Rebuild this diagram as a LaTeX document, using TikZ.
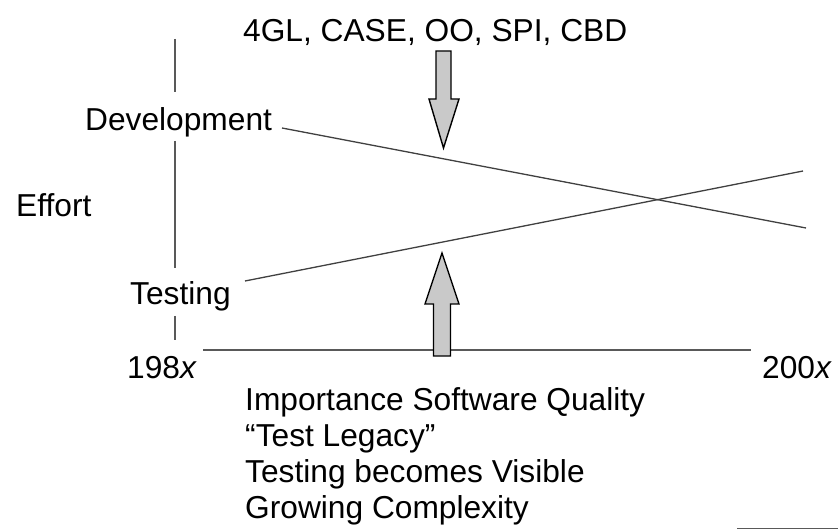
\documentclass[tikz,border=0pt]{standalone}
\usepackage{fontspec}
\setmainfont{Liberation Sans}
\tikzset{
  lbl/.style={inner sep=0pt, anchor=base west, font=\fontsize{31.7}{36}\selectfont},
  axisline/.style={draw=black!65, line width=1.3pt},
  trend/.style={draw=black!75, line width=1.3pt},
  bigarrow/.style={draw=black, line width=1.4pt, fill=black!21, line join=miter},
}
\begin{document}
\begin{tikzpicture}[x=1pt,y=-1pt]
\useasboundingbox (0,0) rectangle (838,529);

% labels
\node[lbl] (tech) at (243,42) {4GL, CASE, OO, SPI, CBD};
\node[lbl] (dev) at (85,131) {Development};
\node[lbl] (effort) at (16,217) {Effort};
\node[lbl] (test) at (130,305) {Testing};
\node[lbl] (start) at (127,378) {198\textit{x}};
\node[lbl] (end) at (762,378) {200\textit{x}};
\node[lbl, align=left, anchor=north west] (why) at (245,387)
  {Importance Software Quality\\``Test Legacy''\\Testing becomes Visible\\Growing Complexity};

% vertical effort axis, broken around its labels
\draw[axisline] (175,39) -- (175,92);
\draw[axisline] (175,141) -- (175,268);
\draw[axisline] (175,316) -- (175,340);

% time axis
\coordinate (t0) at (203,350);
\coordinate (t1) at (751,350);
\draw[axisline] (t0) -- (t1);

% effort trends
\coordinate (d0) at (282,128);
\coordinate (d1) at (806,228);
\coordinate (s0) at (245,281);
\coordinate (s1) at (803,171);
\draw[trend] (d0) -- (d1);
\draw[trend] (s0) -- (s1);

% pressure arrows
\draw[bigarrow] (436,51) -- (451,51) -- (451,99) -- (459,99) -- (443.5,148)
  -- (429,99) -- (436,99) -- cycle;
\draw[bigarrow] (433.5,356) -- (450.5,356) -- (450.5,304) -- (459,304) -- (442,253)
  -- (425,304) -- (433.5,304) -- cycle;

% rule at the lower edge
\coordinate (r0) at (737,528.3);
\coordinate (r1) at (838,528.3);
\draw[axisline] (r0) -- (r1);
\end{tikzpicture}
\end{document}
